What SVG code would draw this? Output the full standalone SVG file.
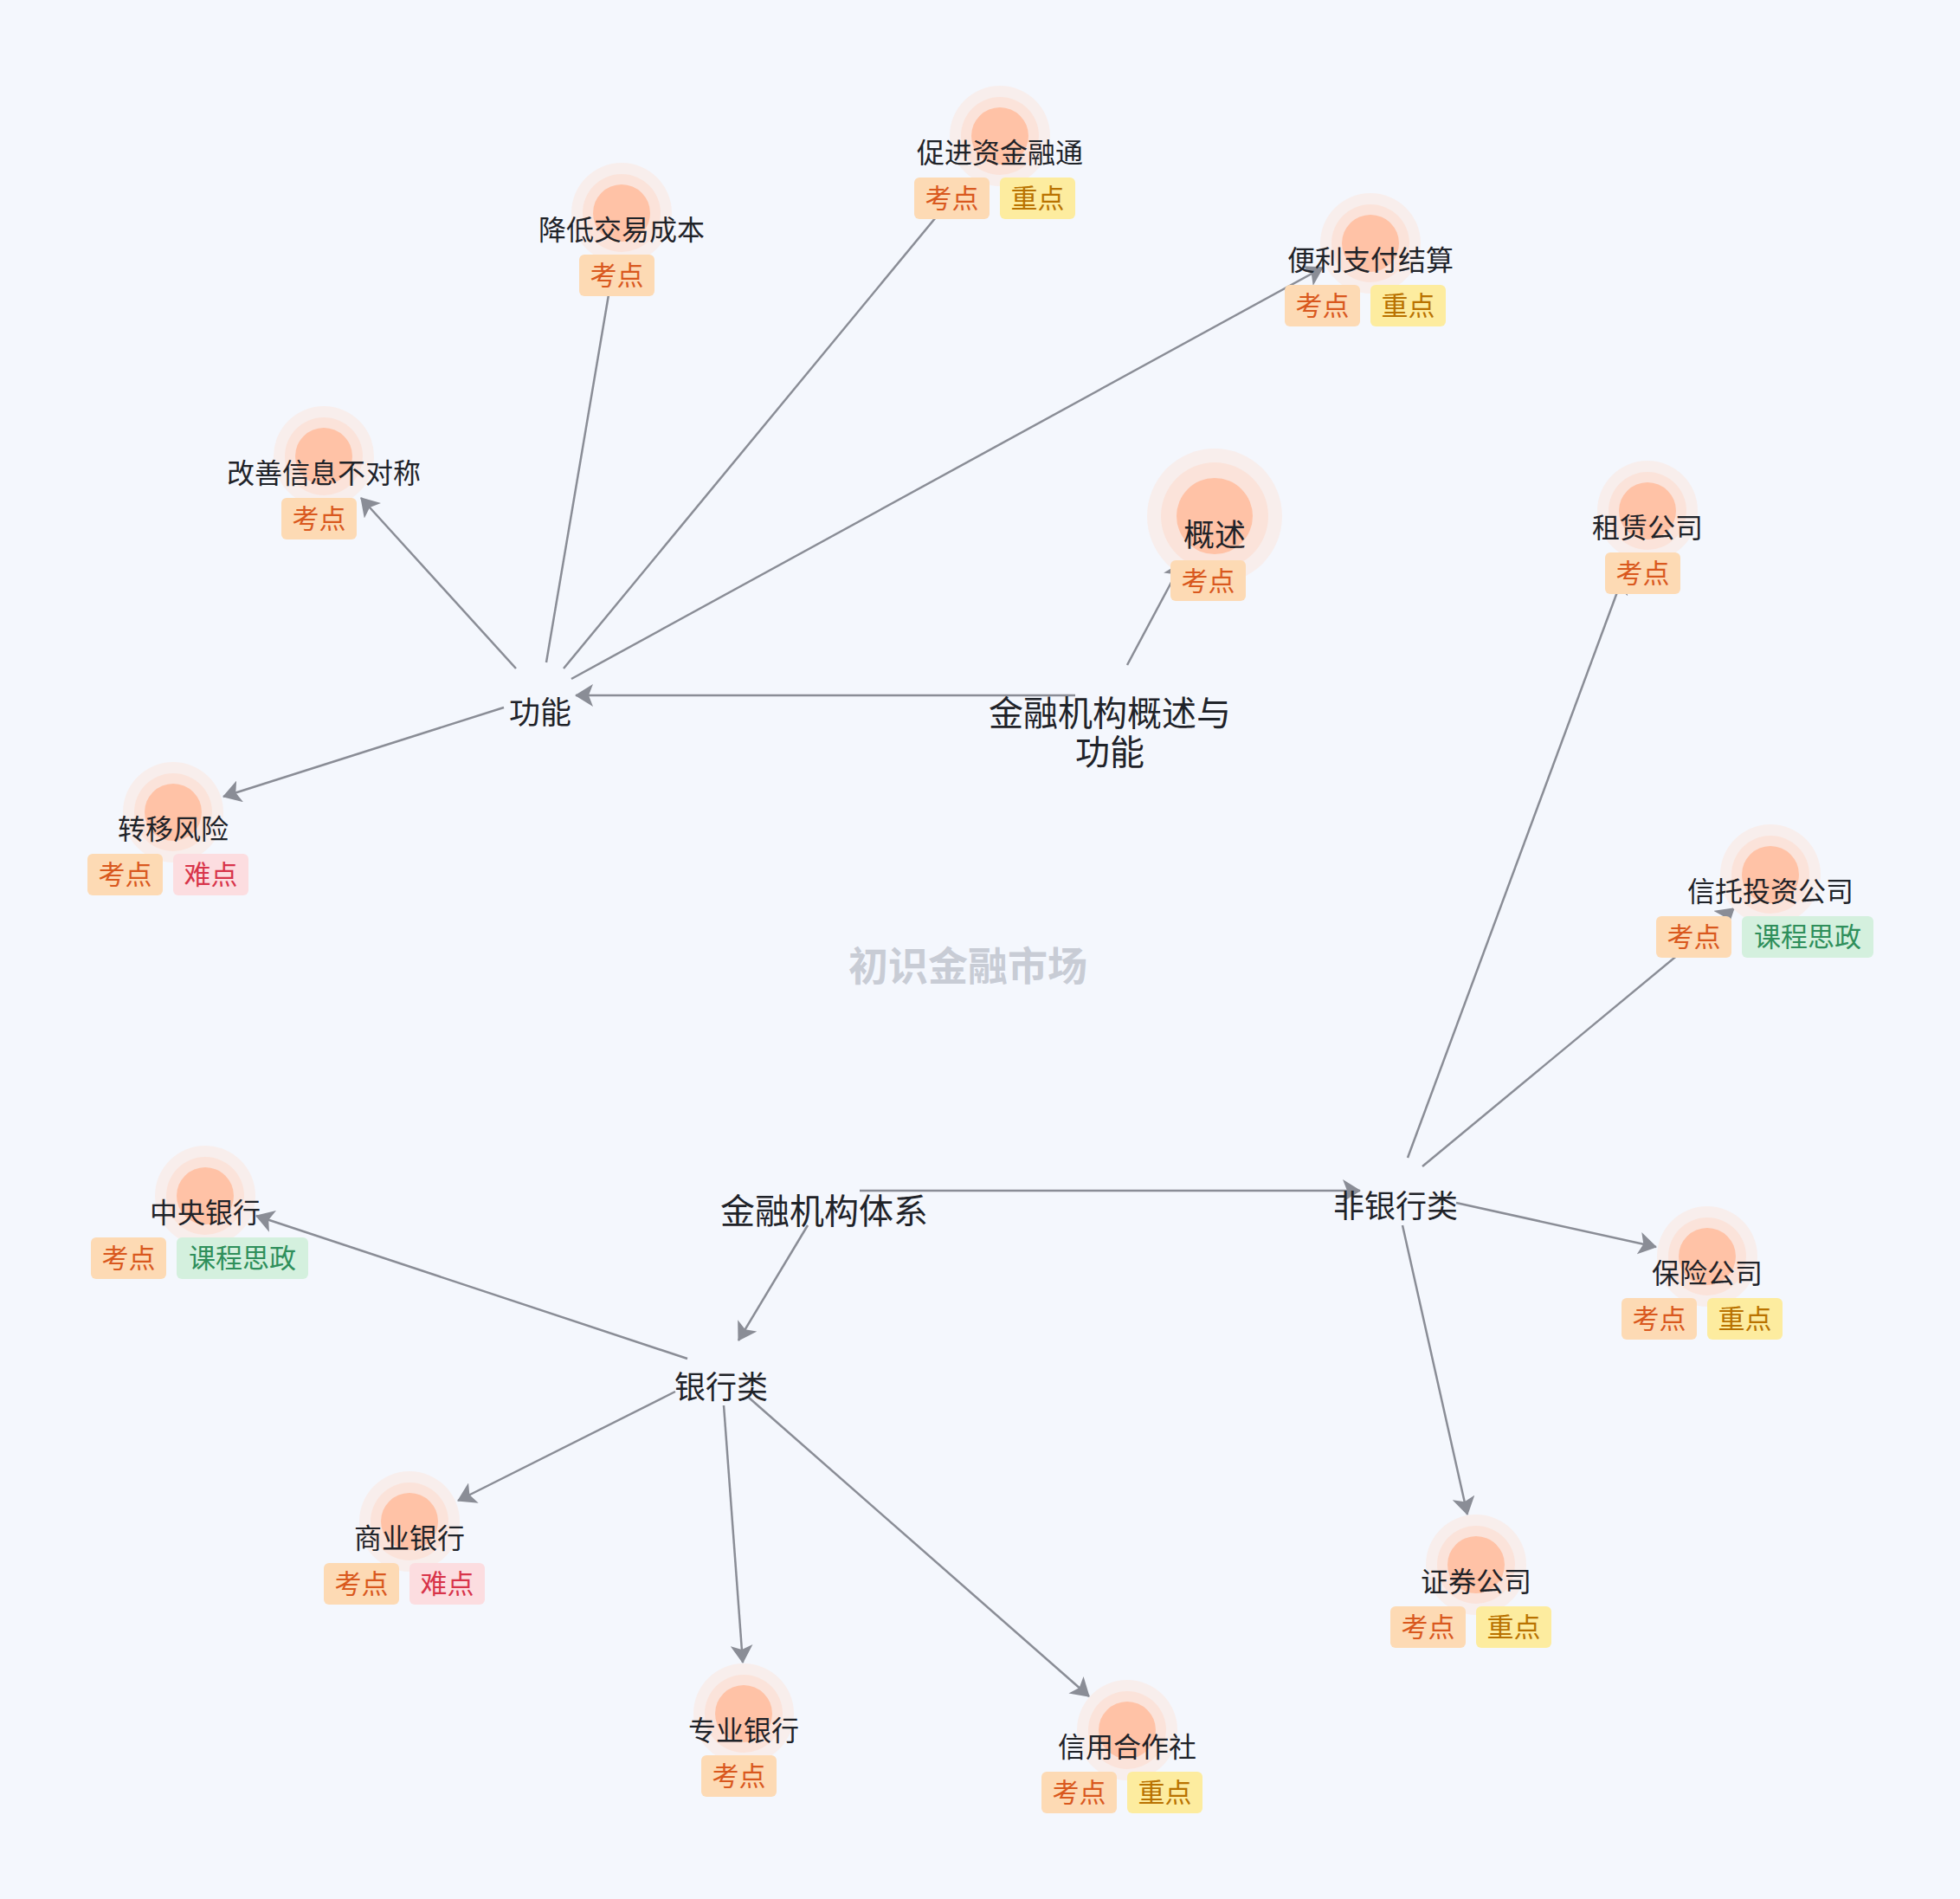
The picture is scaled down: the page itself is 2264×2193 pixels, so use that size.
<svg xmlns="http://www.w3.org/2000/svg" width="2264" height="2193" viewBox="0 0 2264 2193">
<defs>
<style>
text{font-family:"Noto Sans CJK SC","Noto Sans",sans-serif}
.lbl{font-size:32px;fill:#1f2329;text-anchor:middle}
.big{font-size:36px}
.hub{font-size:36px;fill:#1f2329;text-anchor:middle}
.hub40{font-size:40px;fill:#1f2329;text-anchor:middle}
.title{font-size:46px;font-weight:bold;fill:#c8ccd5;text-anchor:middle}
.h1{fill:#f8eeec}
.h2{fill:#fbe3da}
.h3{fill:#ffc2a6}
.tg{font-size:31px;text-anchor:middle}
.kd{fill:#fddab4}
.kdt{fill:#d9581e}
.zd{fill:#fdec9f}
.zdt{fill:#b97200}
.nd{fill:#fcdde0}
.ndt{fill:#d8344a}
.sz{fill:#d4f0de}
.szt{fill:#2f8f5b}
.edge{stroke:#8a8d96;stroke-width:2.5;fill:none;marker-end:url(#ah)}
</style>
<marker id="ah" markerUnits="userSpaceOnUse" markerWidth="22" markerHeight="26" refX="20" refY="13" orient="auto" viewBox="0 0 22 26">
<path d="M0,0 L21,13 L0,26 L5,13 Z" fill="#8a8d96"/>
</marker>
</defs>
<rect width="2264" height="2193" fill="#f4f7fd"/>
<text class="title" x="1118" y="1132">初识金融市场</text>
<g id="connectors">
<path class="edge" d="M1242,803 L665,803"/>
<path class="edge" d="M1302,768 L1365,650"/>
<path class="edge" d="M596,772 L417,575"/>
<path class="edge" d="M631,765 L709,305"/>
<path class="edge" d="M651,772 L1100,228"/>
<path class="edge" d="M660,784 L1528,309"/>
<path class="edge" d="M582,817 L258,920"/>
<path class="edge" d="M993,1375 L1571,1375"/>
<path class="edge" d="M933,1415 L853,1548"/>
<path class="edge" d="M794,1569 L296,1404"/>
<path class="edge" d="M780,1607 L529,1733"/>
<path class="edge" d="M836,1623 L858,1920"/>
<path class="edge" d="M865,1614 L1258,1959"/>
<path class="edge" d="M1626,1337 L1875,665"/>
<path class="edge" d="M1643,1347 L2003,1049"/>
<path class="edge" d="M1682,1389 L1913,1440"/>
<path class="edge" d="M1620,1415 L1695,1749"/>
</g>
<g id="n-root"><text class="hub40" x="1282" y="838">金融机构概述与</text><text class="hub40" x="1282" y="883">功能</text></g>
<g id="n-func"><text class="hub" x="624" y="836">功能</text></g>
<g id="n-system"><text class="hub40" x="952" y="1413">金融机构体系</text></g>
<g id="n-bank"><text class="hub" x="833" y="1615">银行类</text></g>
<g id="n-nonbank"><text class="hub" x="1612" y="1406">非银行类</text></g>

<g id="n-gaishu">
<circle class="h1" cx="1403" cy="596" r="78"/><circle class="h2" cx="1403" cy="596" r="62"/><circle class="h3" cx="1403" cy="596" r="44"/>
<text class="lbl big" x="1403" y="631">概述</text>
<rect class="kd" x="1352" y="647" width="87" height="47" rx="6"/><text class="tg kdt" x="1395.5" y="682">考点</text>
</g>

<g id="n-cjzjrt">
<circle class="h1" cx="1155" cy="157" r="58"/><circle class="h2" cx="1155" cy="157" r="45"/><circle class="h3" cx="1155" cy="157" r="33"/>
<text class="lbl" x="1155" y="188">促进资金融通</text>
<rect class="kd" x="1056" y="205" width="87" height="48" rx="6"/><text class="tg kdt" x="1099.5" y="240">考点</text>
<rect class="zd" x="1155" y="205" width="87" height="48" rx="6"/><text class="tg zdt" x="1198.5" y="240">重点</text>
</g>

<g id="n-jdjycb">
<circle class="h1" cx="718" cy="246" r="58"/><circle class="h2" cx="718" cy="246" r="45"/><circle class="h3" cx="718" cy="246" r="33"/>
<text class="lbl" x="718" y="277">降低交易成本</text>
<rect class="kd" x="669" y="294" width="87" height="48" rx="6"/><text class="tg kdt" x="712.5" y="329">考点</text>
</g>

<g id="n-blzfjs">
<circle class="h1" cx="1583" cy="281" r="58"/><circle class="h2" cx="1583" cy="281" r="45"/><circle class="h3" cx="1583" cy="281" r="33"/>
<text class="lbl" x="1583" y="312">便利支付结算</text>
<rect class="kd" x="1484" y="329" width="87" height="48" rx="6"/><text class="tg kdt" x="1527.5" y="364">考点</text>
<rect class="zd" x="1583" y="329" width="87" height="48" rx="6"/><text class="tg zdt" x="1626.5" y="364">重点</text>
</g>

<g id="n-gsxx">
<circle class="h1" cx="374" cy="527" r="58"/><circle class="h2" cx="374" cy="527" r="45"/><circle class="h3" cx="374" cy="527" r="33"/>
<text class="lbl" x="374" y="558">改善信息不对称</text>
<rect class="kd" x="325" y="575" width="87" height="48" rx="6"/><text class="tg kdt" x="368.5" y="610">考点</text>
</g>

<g id="n-zyfx">
<circle class="h1" cx="200" cy="938" r="58"/><circle class="h2" cx="200" cy="938" r="45"/><circle class="h3" cx="200" cy="938" r="33"/>
<text class="lbl" x="200" y="969">转移风险</text>
<rect class="kd" x="101" y="986" width="87" height="48" rx="6"/><text class="tg kdt" x="144.5" y="1021">考点</text>
<rect class="nd" x="200" y="986" width="87" height="48" rx="6"/><text class="tg ndt" x="243.5" y="1021">难点</text>
</g>

<g id="n-zlgs">
<circle class="h1" cx="1903" cy="590" r="58"/><circle class="h2" cx="1903" cy="590" r="45"/><circle class="h3" cx="1903" cy="590" r="33"/>
<text class="lbl" x="1903" y="621">租赁公司</text>
<rect class="kd" x="1854" y="638" width="87" height="48" rx="6"/><text class="tg kdt" x="1897.5" y="673">考点</text>
</g>

<g id="n-xttz">
<circle class="h1" cx="2045" cy="1010" r="58"/><circle class="h2" cx="2045" cy="1010" r="45"/><circle class="h3" cx="2045" cy="1010" r="33"/>
<text class="lbl" x="2045" y="1041">信托投资公司</text>
<rect class="kd" x="1913" y="1058" width="87" height="48" rx="6"/><text class="tg kdt" x="1956.5" y="1093">考点</text>
<rect class="sz" x="2012" y="1058" width="152" height="48" rx="6"/><text class="tg szt" x="2088" y="1093">课程思政</text>
</g>

<g id="n-bxgs">
<circle class="h1" cx="1972" cy="1451" r="58"/><circle class="h2" cx="1972" cy="1451" r="45"/><circle class="h3" cx="1972" cy="1451" r="33"/>
<text class="lbl" x="1972" y="1482">保险公司</text>
<rect class="kd" x="1873" y="1499" width="87" height="48" rx="6"/><text class="tg kdt" x="1916.5" y="1534">考点</text>
<rect class="zd" x="1972" y="1499" width="87" height="48" rx="6"/><text class="tg zdt" x="2015.5" y="1534">重点</text>
</g>

<g id="n-zqgs">
<circle class="h1" cx="1705" cy="1807" r="58"/><circle class="h2" cx="1705" cy="1807" r="45"/><circle class="h3" cx="1705" cy="1807" r="33"/>
<text class="lbl" x="1705" y="1838">证券公司</text>
<rect class="kd" x="1606" y="1855" width="87" height="48" rx="6"/><text class="tg kdt" x="1649.5" y="1890">考点</text>
<rect class="zd" x="1705" y="1855" width="87" height="48" rx="6"/><text class="tg zdt" x="1748.5" y="1890">重点</text>
</g>

<g id="n-xyhzs">
<circle class="h1" cx="1302" cy="1998" r="58"/><circle class="h2" cx="1302" cy="1998" r="45"/><circle class="h3" cx="1302" cy="1998" r="33"/>
<text class="lbl" x="1302" y="2029">信用合作社</text>
<rect class="kd" x="1203" y="2046" width="87" height="48" rx="6"/><text class="tg kdt" x="1246.5" y="2081">考点</text>
<rect class="zd" x="1302" y="2046" width="87" height="48" rx="6"/><text class="tg zdt" x="1345.5" y="2081">重点</text>
</g>

<g id="n-zyyh">
<circle class="h1" cx="859" cy="1979" r="58"/><circle class="h2" cx="859" cy="1979" r="45"/><circle class="h3" cx="859" cy="1979" r="33"/>
<text class="lbl" x="859" y="2010">专业银行</text>
<rect class="kd" x="810" y="2027" width="87" height="48" rx="6"/><text class="tg kdt" x="853.5" y="2062">考点</text>
</g>

<g id="n-syyh">
<circle class="h1" cx="473" cy="1757" r="58"/><circle class="h2" cx="473" cy="1757" r="45"/><circle class="h3" cx="473" cy="1757" r="33"/>
<text class="lbl" x="473" y="1788">商业银行</text>
<rect class="kd" x="374" y="1805" width="87" height="48" rx="6"/><text class="tg kdt" x="417.5" y="1840">考点</text>
<rect class="nd" x="473" y="1805" width="87" height="48" rx="6"/><text class="tg ndt" x="516.5" y="1840">难点</text>
</g>

<g id="n-zyyh2">
<circle class="h1" cx="237" cy="1381" r="58"/><circle class="h2" cx="237" cy="1381" r="45"/><circle class="h3" cx="237" cy="1381" r="33"/>
<text class="lbl" x="237" y="1412">中央银行</text>
<rect class="kd" x="105" y="1429" width="87" height="48" rx="6"/><text class="tg kdt" x="148.5" y="1464">考点</text>
<rect class="sz" x="204" y="1429" width="152" height="48" rx="6"/><text class="tg szt" x="280" y="1464">课程思政</text>
</g>
</svg>
